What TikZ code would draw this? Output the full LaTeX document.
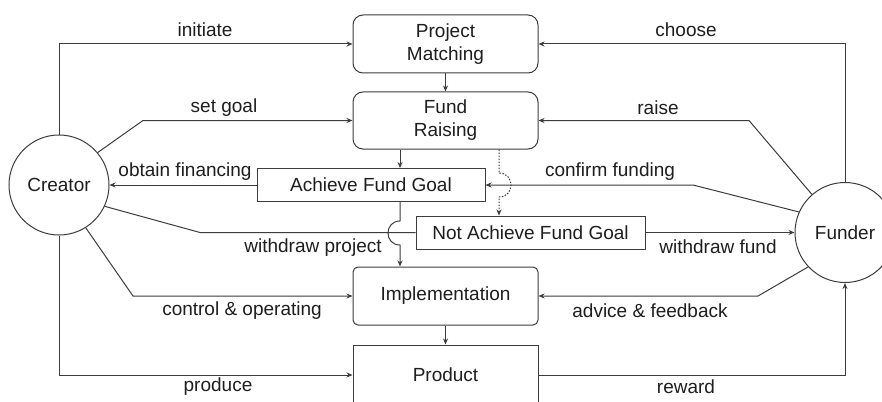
\documentclass[tikz,border=0pt]{standalone}
\usepackage{fontspec}
\setmainfont{Liberation Sans}
\usetikzlibrary{arrows.meta,calc}
\definecolor{linec}{RGB}{60,60,60}
\definecolor{txt}{RGB}{30,30,30}
\begin{document}
\begin{tikzpicture}[x=1pt,y=-1pt,font=\fontsize{19}{23}\selectfont]
\tikzset{
  box/.style={draw=linec, line width=1pt, minimum width=185pt, align=center, inner sep=0pt, text=txt},
  rbox/.style={box, rounded corners=10pt},
  actor/.style={circle, draw=linec, line width=1pt, minimum size=100pt, inner sep=0pt, text=txt},
  conn/.style={draw=linec, line width=1pt},
  arr/.style={conn, -{Stealth[length=6pt,width=5pt]}},
  dotconn/.style={conn, dash pattern=on 1.5pt off 1.5pt, -{Stealth[length=6pt,width=5pt]}},
  lab/.style={text=txt, inner sep=0pt},
}
\useasboundingbox (0,0) rectangle (882,401);
\clip (0,0) rectangle (882,401);
\fill[white] (0,0) rectangle (882,401);

% nodes
\node[rbox, minimum height=58pt] (pm) at (445.5,44) {Project\\Matching};
\node[rbox, minimum height=57pt] (fr) at (445.5,120.5) {Fund\\Raising};
\node[box, minimum width=228pt, minimum height=33pt] (afg) at (371,185) {Achieve Fund Goal};
\node[box, minimum width=229pt, minimum height=33pt] (nafg) at (530.5,232.5) {Not Achieve Fund Goal};
\node[box, rounded corners=5pt, minimum height=58pt] (impl) at (445.5,296) {Implementation};
\node[box, minimum height=60pt] (prod) at (445.5,375) {Product};
\node[actor] (creator) at (59,185) {Creator};
\node[actor] (funder) at (845,232.5) {Funder};

% bend points
\coordinate (sg) at (143,120.5);
\coordinate (wp) at (200,232.5);
\coordinate (co) at (133,296);
\coordinate (rs) at (749,120.5);
\coordinate (cf) at (693,185);
\coordinate (af) at (758,296);
\coordinate (j1) at (400,221);
\coordinate (j2) at (400,245);
\coordinate (d1) at (499,173);
\coordinate (d2) at (499,197);

% vertical flow
\draw[arr] (pm.south) -- (fr.north);
\draw[arr] ([xshift=-45.5pt]fr.south) -- ([xshift=-45.5pt]fr.south |- afg.north);
\draw[dotconn] ([xshift=53.5pt]fr.south) -- (d1) .. controls (515,173) and (515,197) .. (d2) -- ([xshift=-31.5pt]nafg.north);
\draw[arr] ([xshift=29pt]afg.south) -- (j1) .. controls (384,221) and (384,245) .. (j2) -- ([xshift=-45.5pt]impl.north);
\draw[arr] (impl.south) -- (prod.north);

% creator side
\draw[arr] (creator.north) |- (pm.west);
\draw[arr] (creator.40) -- (sg) -- (fr.west);
\draw[arr] (afg.west) -- (creator.east);
\draw[conn] (creator.-25) -- (wp) -- (nafg.west);
\draw[arr] (creator.-58) -- (co) -- (impl.west);
\draw[arr] (creator.south) |- (prod.west);

% funder side
\draw[arr] (funder.north) |- (pm.east);
\draw[arr] (funder.131) -- (rs) -- (fr.east);
\draw[arr] (funder.156) -- (cf) -- (afg.east);
\draw[arr] (nafg.east) -- (funder.west);
\draw[arr] (funder.223) -- (af) -- (impl.east);
\draw[arr] (prod.east) -| (funder.south);

% labels
\node[lab] (l1) at (205,30) {initiate};
\node[lab] (l2) at (224,108) {set goal};
\node[lab] (l3) at (185,172) {obtain financing};
\node[lab] (l4) at (313,248) {withdraw project};
\node[lab] (l5) at (242,311) {control \& operating};
\node[lab] (l6) at (218,387) {produce};
\node[lab] (l7) at (686,30) {choose};
\node[lab] (l8) at (658,108) {raise};
\node[lab] (l9) at (610,172) {confirm funding};
\node[lab] (l10) at (718,247) {withdraw fund};
\node[lab] (l11) at (650,311) {advice \& feedback};
\node[lab] (l12) at (686,387) {reward};
\end{tikzpicture}
\end{document}
